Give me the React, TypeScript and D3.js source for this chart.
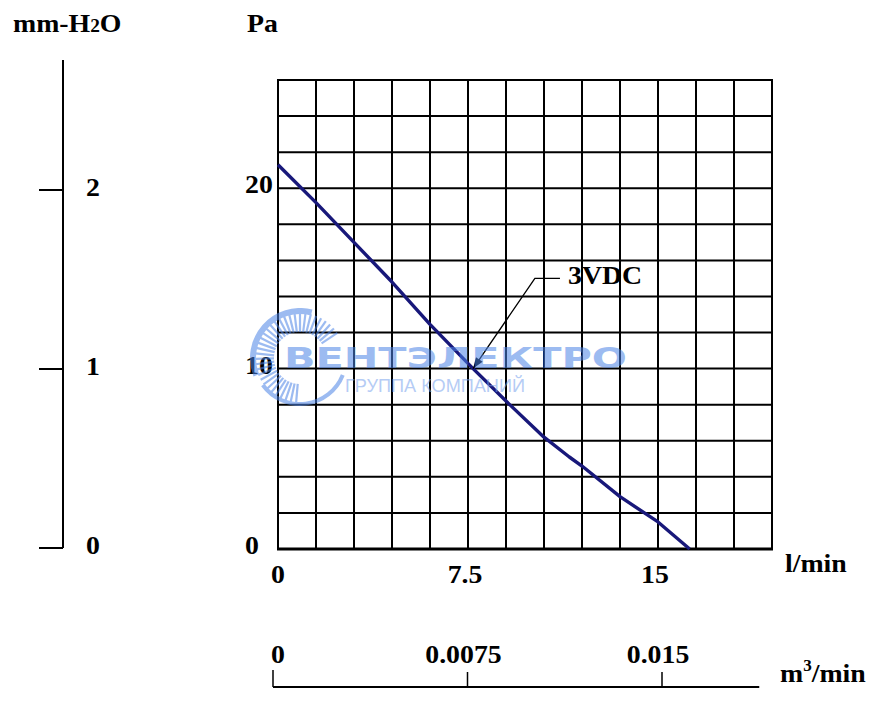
import React from "react";
import * as d3 from "d3";

// ---- data ----
const flowLpm = [0, 1.5, 3.0, 4.5, 6.0, 7.7, 9.0, 10.5, 11.5, 12.0, 13.5, 15.0, 16.25];
const pressurePa = [21.3, 19.2, 17.0, 14.8, 12.45, 10.0, 8.2, 6.2, 5.1, 4.6, 2.9, 1.5, 0];
const seriesName = "3VDC";
const paTicks = [0, 10, 20];
const lpmTicks = [0, 7.5, 15];
const lpmTickLabels = ["0", "7.5", "15"];
const mmTicks = [0, 1, 2];
const m3Ticks = [0, 0.0075, 0.015];
const m3TickLabels = ["0", "0.0075", "0.015"];
const X_MAX = 19.5;
const Y_MAX = 26;
const X_STEP = 1.5;
const Y_STEP = 2;
const M3_MAX = 0.01875;
const annotationTip = [7.7, 10.0];
const annotationElbow = [10.14, 15.0];
const annotationEnd = [11.13, 15.0];

const W = 874;
const H = 713;
const serif = "'Liberation Serif', 'Times New Roman', serif";
const FS = 26;
const SX = 1.07;

function T({ x, y, anchor = "start", children }: { x: number; y: number; anchor?: string; children: React.ReactNode }) {
  return (
    <text
      transform={`translate(${x},${y}) scale(${SX},1)`}
      textAnchor={anchor}
      fontFamily={serif}
      fontWeight="bold"
      fontSize={FS}
      fill="#000"
    >
      {children}
    </text>
  );
}

export default function App() {
  const x = d3.scaleLinear().domain([0, X_MAX]).range([278, 772]);
  const y = d3.scaleLinear().domain([0, Y_MAX]).range([549, 80]);
  const yMm = d3.scaleLinear().domain([0, 2]).range([548, 190]);
  const xM3 = d3.scaleLinear().domain([0, 0.015]).range([273, 662]);

  const xGrid = d3.range(0, X_MAX + 1e-6, X_STEP);
  const yGrid = d3.range(0, Y_MAX + 1e-6, Y_STEP);

  const pts: [number, number][] = flowLpm.map((f, i) => [f, pressurePa[i]]);
  const line = d3
    .line<[number, number]>()
    .x((d) => x(d[0]))
    .y((d) => y(d[1]))
    .curve(d3.curveLinear);

  const tip = [x(annotationTip[0]), y(annotationTip[1])];
  const elbow = [x(annotationElbow[0]), y(annotationElbow[1])];
  const end = [x(annotationEnd[0]), y(annotationEnd[1])];

  const ang = Math.atan2(tip[1] - elbow[1], tip[0] - elbow[0]);
  const aL = 11, aW = 4;
  const ah = [
    [tip[0], tip[1]],
    [tip[0] - aL * Math.cos(ang) + aW * Math.sin(ang), tip[1] - aL * Math.sin(ang) - aW * Math.cos(ang)],
    [tip[0] - aL * Math.cos(ang) - aW * Math.sin(ang), tip[1] - aL * Math.sin(ang) + aW * Math.cos(ang)],
  ];

  const cx = 300, cy = 358;
  const spokeAngles = d3.range(95, 330, 7);

  return (
    <div style={{ position: "absolute", left: 0, top: 0 }}>
      <svg width={W} height={H} style={{ display: "block", background: "#fff" }}>
        <rect width={W} height={H} fill="#fff" />

        {/* axis titles */}
        <text transform={`translate(13,32) scale(${SX},1)`} fontFamily={serif} fontWeight="bold" fontSize={FS} fill="#000">
          mm-H<tspan fontSize={18}>2</tspan>O
        </text>
        <T x={247} y={32}>Pa</T>

        {/* left mm-H2O axis */}
        <line x1={63} x2={63} y1={y(Y_MAX) - 20} y2={yMm(0)} stroke="#000" strokeWidth={2} />
        {mmTicks.map((t) => (
          <g key={"mm" + t}>
            <line x1={39} x2={63} y1={yMm(t)} y2={yMm(t)} stroke="#000" strokeWidth={2} />
            <T x={93} y={yMm(t) + 6} anchor="middle">{t}</T>
          </g>
        ))}

        {/* grid */}
        {xGrid.map((v) => (
          <line key={"gx" + v} x1={x(v)} x2={x(v)} y1={y(0)} y2={y(Y_MAX)} stroke="#000" strokeWidth={2} />
        ))}
        {yGrid.map((v) => (
          <line key={"gy" + v} x1={x(0) - 1} x2={x(X_MAX) + 1} y1={y(v)} y2={y(v)} stroke="#000" strokeWidth={2} />
        ))}
        <line x1={x(0) - 1} x2={x(X_MAX) + 1} y1={y(0)} y2={y(0)} stroke="#000" strokeWidth={3} />

        {/* Pa tick labels */}
        {paTicks.map((t) => (
          <T key={"pa" + t} x={245} y={y(t) + 5}>{t}</T>
        ))}

        {/* l/min tick labels */}
        {lpmTicks.map((t, i) => (
          <T key={"lpm" + t} x={x(t) - (i === 0 ? 0 : 3)} y={583} anchor="middle">{lpmTickLabels[i]}</T>
        ))}
        <T x={785} y={572}>l/min</T>

        {/* curve */}
        <path d={line(pts) || ""} fill="none" stroke="#18187a" strokeWidth={3.4} strokeLinejoin="round" />

        {/* annotation */}
        <polyline
          points={`${end[0]},${end[1]} ${elbow[0]},${elbow[1]} ${tip[0]},${tip[1]}`}
          fill="none"
          stroke="#000"
          strokeWidth={1.3}
        />
        <polygon points={ah.map((p) => p.join(",")).join(" ")} fill="#000" />
        <T x={568} y={end[1] + 6}>{seriesName}</T>

        {/* m3/min axis */}
        <line x1={xM3(0)} x2={xM3(M3_MAX)} y1={687} y2={687} stroke="#000" strokeWidth={2} />
        {m3Ticks.map((t, i) => (
          <g key={"m3" + t}>
            <line x1={xM3(t)} x2={xM3(t)} y1={i === 0 ? 670 : 672} y2={687} stroke="#000" strokeWidth={1.5} />
            <T x={i === 0 ? xM3(t) + 5 : xM3(t) - 4} y={663} anchor="middle">{m3TickLabels[i]}</T>
          </g>
        ))}
        <text transform={`translate(780,682) scale(${SX},1)`} fontFamily={serif} fontWeight="bold" fontSize={FS} fill="#000">
          m<tspan fontSize={16} dy={-11}>3</tspan>
          <tspan dy={11}>/min</tspan>
        </text>

        {/* watermark */}
        <g opacity={0.55}>
          {spokeAngles.map((a) => {
            const r = (a * Math.PI) / 180;
            return (
              <line
                key={"sp" + a}
                x1={cx + 26 * Math.cos(r)}
                y1={cy + 26 * Math.sin(r)}
                x2={cx + 45 * Math.cos(r)}
                y2={cy + 45 * Math.sin(r)}
                stroke="#4d84e6"
                strokeWidth={2.2}
              />
            );
          })}
          <path
            d={d3.arc()({ innerRadius: 44, outerRadius: 50, startAngle: -Math.PI * 0.62, endAngle: Math.PI * 0.08 }) || ""}
            transform={`translate(${cx},${cy})`}
            fill="#4d84e6"
          />
          <path
            d={d3.arc()({ innerRadius: 44, outerRadius: 48, startAngle: Math.PI * 0.62, endAngle: Math.PI * 1.3 }) || ""}
            transform={`translate(${cx},${cy})`}
            fill="#4d84e6"
          />
          <text
            x={284}
            y={368}
            textLength={343}
            lengthAdjust="spacingAndGlyphs"
            fontFamily="'DejaVu Sans', sans-serif"
            fontWeight="bold"
            fontSize={28}
            fill="#4d84e6"
          >
            ВЕНТЭЛЕКТРО
          </text>
          <text
            x={345}
            y={392}
            textLength={180}
            lengthAdjust="spacingAndGlyphs"
            fontFamily="'Liberation Sans', Arial, sans-serif"
            fontSize={19}
            fill="#7aa3ee"
          >
            ГРУППА КОМПАНИЙ
          </text>
        </g>
      </svg>
    </div>
  );
}
